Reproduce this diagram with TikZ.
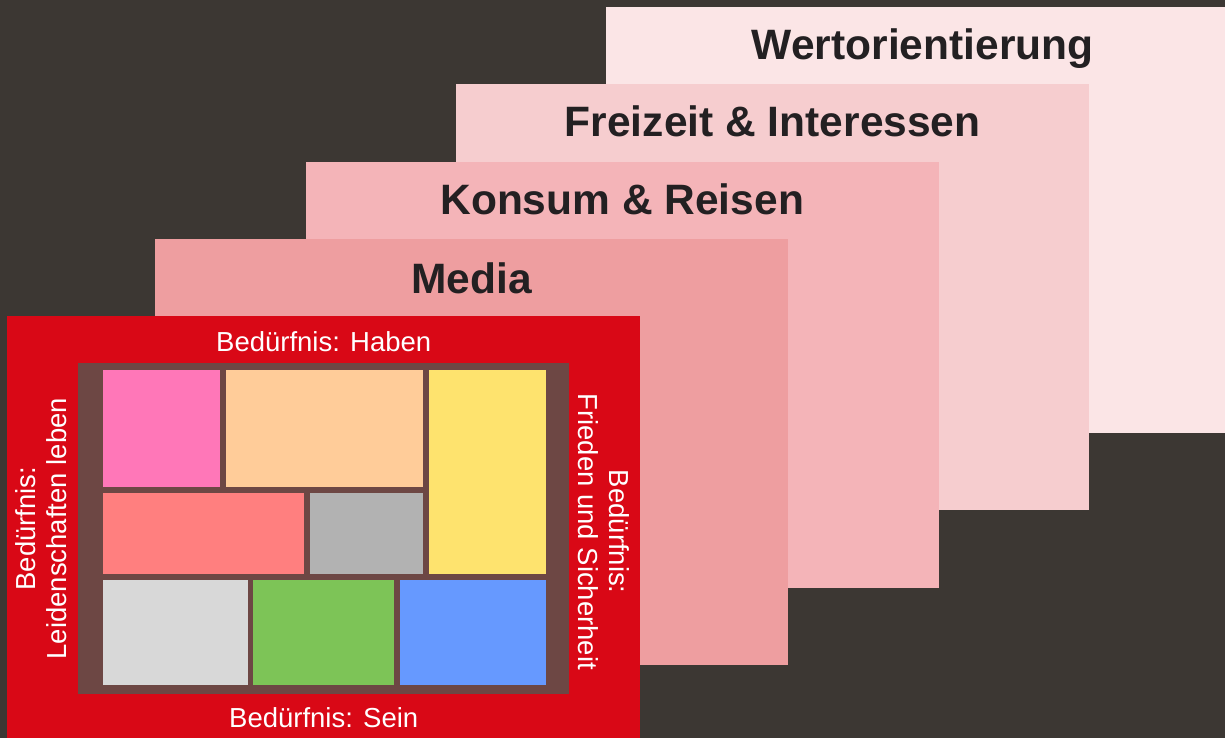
\documentclass[tikz,border=0pt]{standalone}
\usepackage{fontspec}
\setmainfont{Liberation Sans}
\usepackage{tikz}
\definecolor{bg}{RGB}{60, 55, 51}
\definecolor{ink}{RGB}{35, 32, 34}
\definecolor{cwert}{RGB}{251, 229, 230}
\definecolor{cfrei}{RGB}{246, 205, 207}
\definecolor{ckonsum}{RGB}{244, 180, 184}
\definecolor{cmedia}{RGB}{238, 158, 160}
\definecolor{cred}{RGB}{217, 8, 22}
\definecolor{cbrown}{RGB}{109, 71, 68}
\definecolor{cpink}{RGB}{255, 119, 184}
\definecolor{cpeach}{RGB}{255, 204, 153}
\definecolor{cyellow}{RGB}{254, 227, 110}
\definecolor{csalmon}{RGB}{255, 127, 127}
\definecolor{cgray}{RGB}{178, 178, 178}
\definecolor{clight}{RGB}{216, 216, 216}
\definecolor{cgreen}{RGB}{125, 196, 87}
\definecolor{cblue}{RGB}{102, 153, 255}
\usetikzlibrary{positioning}

\tikzset{
  layer/.style={rectangle, anchor=north west, inner sep=0pt, minimum width=633pt, minimum height=426pt},
  cell/.style={rectangle, anchor=north west, inner sep=0pt},
  layertitle/.style={anchor=base, inner sep=0pt, text=ink, font=\fontsize{42.5}{48}\selectfont\bfseries},
  need/.style={inner sep=0pt, text=white, align=center, font=\fontsize{27.5}{31}\selectfont}
}

\begin{document}
\begin{tikzpicture}
\useasboundingbox (0pt, 0pt) rectangle (1225pt, -738pt);
\clip (0pt, 0pt) rectangle (1225pt, -738pt);
\fill [bg] (0pt, 0pt) rectangle (1225pt, -738pt);
% stacked layers
\node (wert) [layer, fill=cwert] at (606.0pt, -7.0pt) {};
\node (wertTitle) [layertitle] at ([yshift=-53pt]wert.north) {Wertorientierung};
\node (frei) [layer, fill=cfrei] at (456.0pt, -84.0pt) {};
\node (freiTitle) [layertitle] at ([yshift=-53pt]frei.north) {Freizeit \& Interessen};
\node (konsum) [layer, fill=ckonsum] at (305.5pt, -161.5pt) {};
\node (konsumTitle) [layertitle] at ([yshift=-53pt]konsum.north) {Konsum \& Reisen};
\node (media) [layer, fill=cmedia] at (155.0pt, -239.0pt) {};
\node (mediaTitle) [layertitle] at ([yshift=-54pt]media.north) {Media};
% needs box
\node (red) [layer, fill=cred] at (7.0pt, -316.0pt) {};
\node (brown) [cell, fill=cbrown, minimum width=491pt, minimum height=331pt] at (78.0pt, -363.0pt) {};
\node (haben) [need, anchor=base] at ([yshift=-35pt]red.north) {Bedürfnis: Haben};
\node (sein) [need, anchor=base] at ([yshift=15pt]red.south) {Bedürfnis: Sein};
\node (leben) [need, rotate=90] at ([xshift=-36.5pt]brown.west) {Bedürfnis:\\Leidenschaften leben};
\node (frieden) [need, rotate=-90] at ([xshift=34pt, yshift=-3pt]brown.east) {Bedürfnis:\\Frieden und Sicherheit};
% cells
\node (1) [cell, fill=cpink, minimum width=117pt, minimum height=117pt] at (103.0pt, -370.0pt) {};
\node (2) [cell, fill=cpeach, minimum width=197pt, minimum height=117pt] at (226.0pt, -370.0pt) {};
\node (3) [cell, fill=cyellow, minimum width=117pt, minimum height=204pt] at (429.0pt, -370.0pt) {};
\node (4) [cell, fill=csalmon, minimum width=201pt, minimum height=81pt] at (103.0pt, -493.0pt) {};
\node (5) [cell, fill=cgray, minimum width=113pt, minimum height=81pt] at (310.0pt, -493.0pt) {};
\node (6) [cell, fill=clight, minimum width=145pt, minimum height=105pt] at (103.0pt, -580.0pt) {};
\node (7) [cell, fill=cgreen, minimum width=141pt, minimum height=105pt] at (253.0pt, -580.0pt) {};
\node (8) [cell, fill=cblue, minimum width=146pt, minimum height=105pt] at (400.0pt, -580.0pt) {};
\end{tikzpicture}
\end{document}
